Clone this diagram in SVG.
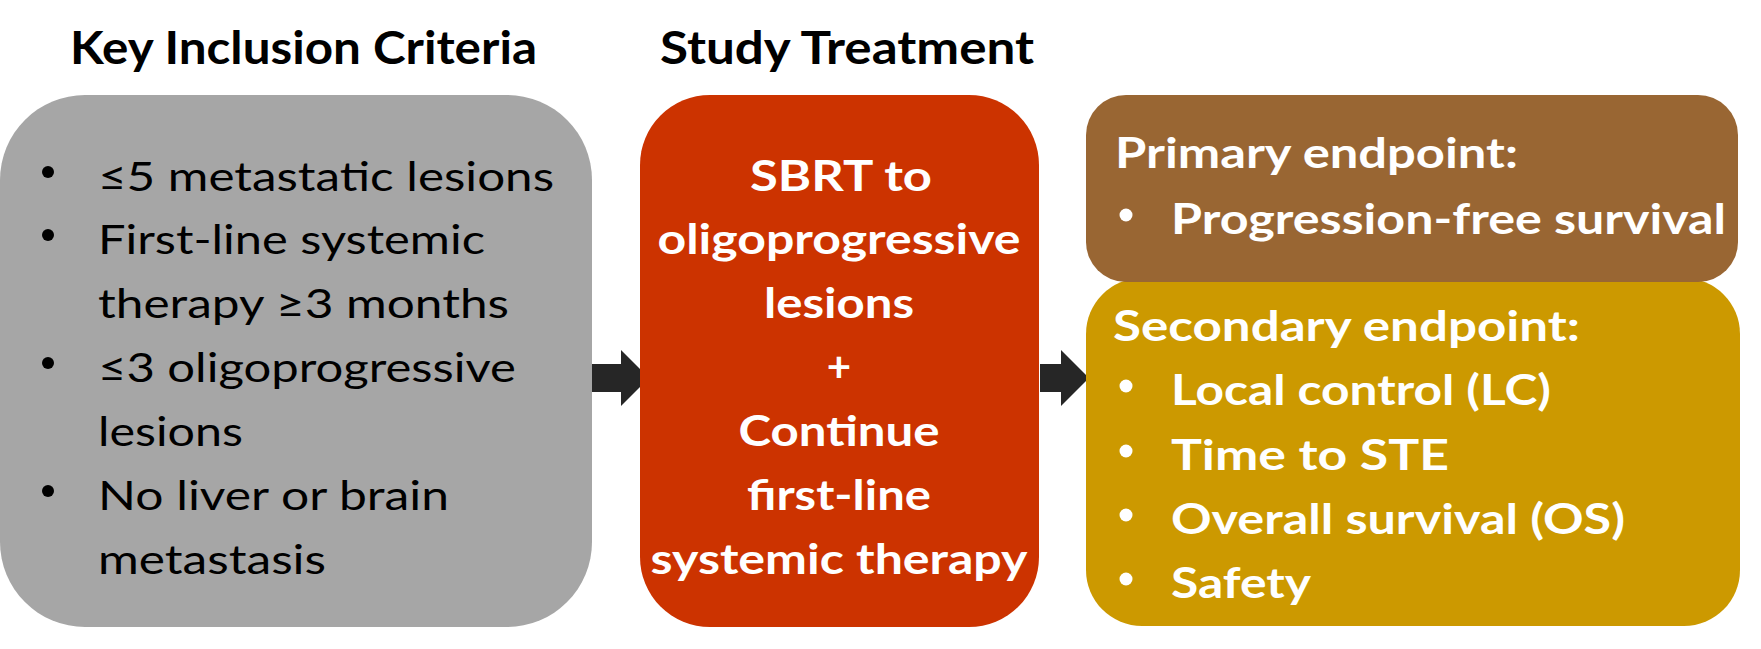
<svg xmlns="http://www.w3.org/2000/svg" width="1761" height="649" viewBox="0 0 1761 649">
<style>
.t{font-family:Lato,"Open Sans","Liberation Sans",sans-serif}
.title{font-size:45px;font-weight:bold;fill:#000}
.body{font-size:41px;fill:#000}
.wb{font-size:42px;font-weight:bold;fill:#fff}
.arrow{fill:#262626}
</style>
<rect width="1761" height="649" fill="#fff"/>
<g id="connectors">
<polygon class="arrow" points="592,364 621,364 621,350 649,378 621,406 621,392 592,392"/>
<polygon class="arrow" points="1040,364 1061,364 1061,350 1089,378 1061,406 1061,392 1040,392"/>
</g>
<g id="title-inclusion">
<text class="t title" x="303.5" y="64" text-anchor="middle" textLength="467" lengthAdjust="spacingAndGlyphs">Key Inclusion Criteria</text>
</g>
<g id="title-treatment">
<text class="t title" x="847" y="64" text-anchor="middle" textLength="374" lengthAdjust="spacingAndGlyphs">Study Treatment</text>
</g>
<g id="inclusion">
<rect x="0" y="95" width="592" height="532" rx="85" fill="#A6A6A6"/>
<circle cx="48" cy="172" r="6"/>
<circle cx="48" cy="235" r="6"/>
<circle cx="48" cy="363" r="6"/>
<circle cx="48" cy="491" r="6"/>
<text class="t body" x="98" y="191" textLength="456" lengthAdjust="spacingAndGlyphs">≤5 metastatic lesions</text>
<text class="t body" x="98" y="254" textLength="387" lengthAdjust="spacingAndGlyphs">First-line systemic</text>
<text class="t body" x="98" y="318" textLength="411" lengthAdjust="spacingAndGlyphs">therapy ≥3 months</text>
<text class="t body" x="98" y="382" textLength="418" lengthAdjust="spacingAndGlyphs">≤3 oligoprogressive</text>
<text class="t body" x="98" y="446" textLength="145" lengthAdjust="spacingAndGlyphs">lesions</text>
<text class="t body" x="98" y="510" textLength="351" lengthAdjust="spacingAndGlyphs">No liver or brain</text>
<text class="t body" x="98" y="574" textLength="228" lengthAdjust="spacingAndGlyphs">metastasis</text>
</g>
<g id="treatment">
<rect x="640" y="95" width="399" height="532" rx="70" fill="#CC3300"/>
<text class="t wb" x="841" y="191" text-anchor="middle" textLength="182" lengthAdjust="spacingAndGlyphs">SBRT to</text>
<text class="t wb" x="839" y="254" text-anchor="middle" textLength="363" lengthAdjust="spacingAndGlyphs">oligoprogressive</text>
<text class="t wb" x="839" y="318" text-anchor="middle" textLength="150" lengthAdjust="spacingAndGlyphs">lesions</text>
<text class="t wb" x="839" y="382" text-anchor="middle">+</text>
<text class="t wb" x="839" y="446" text-anchor="middle" textLength="201" lengthAdjust="spacingAndGlyphs">Continue</text>
<text class="t wb" x="839" y="510" text-anchor="middle" textLength="184" lengthAdjust="spacingAndGlyphs">first-line</text>
<text class="t wb" x="839" y="574" text-anchor="middle" textLength="377" lengthAdjust="spacingAndGlyphs">systemic therapy</text>
</g>
<g id="secondary">
<rect x="1086" y="278" width="654" height="348" rx="56" fill="#CC9900"/>
<text class="t wb" x="1113" y="341" textLength="467" lengthAdjust="spacingAndGlyphs">Secondary endpoint:</text>
<circle cx="1126" cy="386" r="6.5" fill="#fff"/>
<circle cx="1126" cy="451" r="6.5" fill="#fff"/>
<circle cx="1126" cy="515" r="6.5" fill="#fff"/>
<circle cx="1126" cy="579" r="6.5" fill="#fff"/>
<text class="t wb" x="1171" y="405" textLength="380" lengthAdjust="spacingAndGlyphs">Local control (LC)</text>
<text class="t wb" x="1171" y="470" textLength="278" lengthAdjust="spacingAndGlyphs">Time to STE</text>
<text class="t wb" x="1171" y="534" textLength="454" lengthAdjust="spacingAndGlyphs">Overall survival (OS)</text>
<text class="t wb" x="1171" y="598" textLength="140" lengthAdjust="spacingAndGlyphs">Safety</text>
</g>
<g id="primary">
<rect x="1086" y="95" width="652" height="187" rx="40" fill="#996633"/>
<text class="t wb" x="1115" y="168" textLength="403" lengthAdjust="spacingAndGlyphs">Primary endpoint:</text>
<circle cx="1126" cy="215" r="6.5" fill="#fff"/>
<text class="t wb" x="1171" y="234" textLength="555" lengthAdjust="spacingAndGlyphs">Progression-free survival</text>
</g>
</svg>
